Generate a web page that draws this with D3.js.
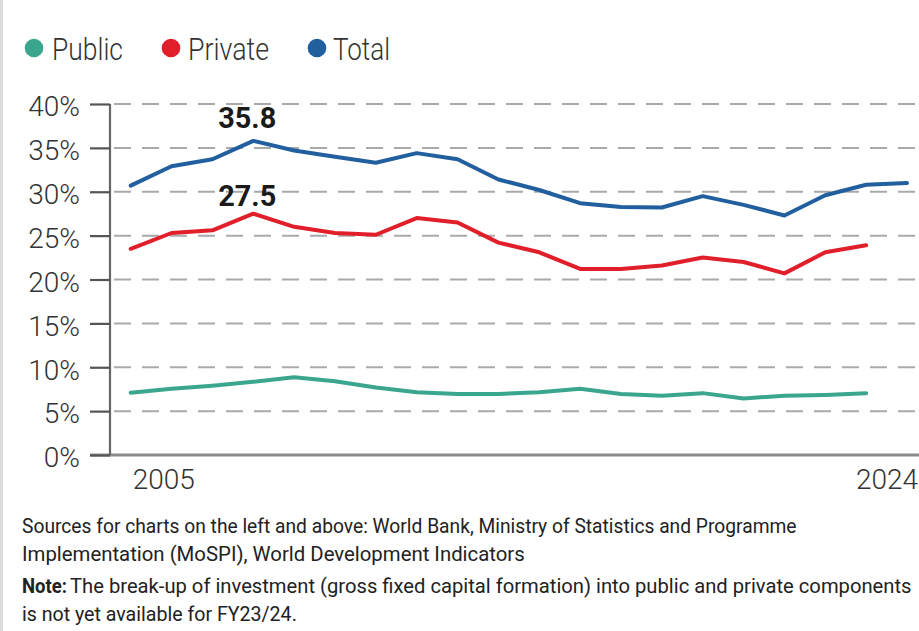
<!DOCTYPE html>
<html>
<head>
<meta charset="utf-8">
<script src="https://cdn.jsdelivr.net/npm/d3@7"></script>
<style>
  html, body { margin: 0; padding: 0; background: #fff; }
  svg { display: block; }
  text { font-family: Roboto, "Noto Sans", sans-serif; }
</style>
</head>
<body>
<svg id="chart" width="919" height="631"></svg>
<script>
const years = [2005, 2006, 2007, 2008, 2009, 2010, 2011, 2012, 2013, 2014,
               2015, 2016, 2017, 2018, 2019, 2020, 2021, 2022, 2023, 2024];
const totalValues   = [30.7, 32.9, 33.7, 35.8, 34.7, 34.0, 33.3, 34.4, 33.7, 31.4,
                       30.2, 28.7, 28.25, 28.2, 29.5, 28.5, 27.3, 29.6, 30.8, 31.0];
const privateValues = [23.5, 25.3, 25.6, 27.5, 26.0, 25.3, 25.1, 27.0, 26.5, 24.2,
                       23.1, 21.2, 21.2, 21.6, 22.5, 22.0, 20.7, 23.1, 23.9, null];
const publicValues  = [7.1, 7.55, 7.9, 8.35, 8.85, 8.4, 7.7, 7.15, 6.95, 6.95,
                       7.15, 7.55, 6.95, 6.75, 7.05, 6.45, 6.75, 6.85, 7.05, null];
const seriesNames = ["Public", "Private", "Total"];
const yTicks = [0, 5, 10, 15, 20, 25, 30, 35, 40];
const xTickLabels = [2005, 2024];
const annotationYears = [2008, 2008];
const annotationSeries = ["Total", "Private"];
const annotationTexts = ["35.8", "27.5"];
const sourceLines = [
  "Sources for charts on the left and above: World Bank, Ministry of Statistics and Programme",
  "Implementation (MoSPI),  World Development Indicators"
];
const noteLabel = "Note:";
const noteLines = [
  "The break-up of investment (gross fixed capital formation) into public and private components",
  "is not yet available for FY23/24."
];

const colors = { Public: "#3aa68d", Private: "#e11f2b", Total: "#215f9f" };
const valuesBySeries = { Public: publicValues, Private: privateValues, Total: totalValues };

const svg = d3.select("#chart");

// left page edge
svg.append("rect").attr("x", 0).attr("y", 0).attr("width", 3).attr("height", 631).attr("fill", "#dcdcdc");

const x = d3.scaleLinear().domain([2005, 2024]).range([130.7, 907]);
const y = d3.scaleLinear().domain([0, 40]).range([455, 104]);

// gridlines (dashed)
const grid = svg.append("g");
grid.selectAll("line.grid").data(yTicks.filter(d => d > 0)).join("line")
  .attr("x1", 110).attr("x2", 919)
  .attr("y1", d => y(d)).attr("y2", d => y(d))
  .attr("stroke", "#a9a9a9").attr("stroke-width", 2)
  .attr("stroke-dasharray", "17,11").attr("stroke-dashoffset", -4);

// baseline
svg.append("line").attr("x1", 90).attr("x2", 919).attr("y1", y(0)).attr("y2", y(0))
  .attr("stroke", "#8c8c8c").attr("stroke-width", 3);

// y axis
const yAxis = d3.axisLeft(y).tickValues(yTicks).tickSize(20).tickPadding(10)
  .tickFormat(d => d + "%");
const yg = svg.append("g").attr("transform", "translate(110,0)").call(yAxis);
yg.select(".domain").attr("stroke", "#666").attr("stroke-width", 2.2)
  .attr("d", `M0,${y(40)}V${y(0)}`);
yg.selectAll(".tick line").attr("stroke", "#555").attr("stroke-width", 2.2);
yg.selectAll(".tick text")
  .attr("x", -30)
  .attr("dy", "0.42em")
  .attr("fill", "#333")
  .style("font-size", "28px")
  .style("font-weight", 300)
  .style("font-family", "Roboto, sans-serif");

// x axis labels
const xg = svg.append("g");
xg.selectAll("text").data(xTickLabels).join("text")
  .attr("x", d => d === 2005 ? x(d) + 2 : 918)
  .attr("y", 489)
  .attr("text-anchor", d => d === 2005 ? "start" : "end")
  .attr("fill", "#333")
  .style("font-size", "28px")
  .style("font-weight", 300)
  .text(d => d);

// lines
const line = d3.line()
  .defined(d => d.v !== null)
  .x(d => x(d.year))
  .y(d => y(d.v));

seriesNames.forEach(name => {
  const data = years.map((yr, i) => ({ year: yr, v: valuesBySeries[name][i] }));
  svg.append("path").datum(data)
    .attr("d", line)
    .attr("fill", "none")
    .attr("stroke", colors[name])
    .attr("stroke-width", 4)
    .attr("stroke-linejoin", "round")
    .attr("stroke-linecap", "round");
});

// annotations
annotationTexts.forEach((t, i) => {
  const yr = annotationYears[i];
  const v = valuesBySeries[annotationSeries[i]][years.indexOf(yr)];
  svg.append("text")
    .attr("x", x(yr) - 6)
    .attr("y", y(v) - (annotationSeries[i] === "Total" ? 13 : 8))
    .attr("text-anchor", "middle")
    .attr("fill", "#1a1a1a")
    .style("font-size", "29px")
    .style("font-weight", 700)
    .attr("textLength", 58)
    .attr("lengthAdjust", "spacingAndGlyphs")
    .text(t);
});

// legend
const legendCx = [34, 171, 317];
const legendTx = [52, 188, 333];
const legendW = [71, 81, 57];
const lg = svg.append("g");
seriesNames.forEach((name, i) => {
  lg.append("circle").attr("cx", legendCx[i]).attr("cy", 48).attr("r", 9.3).attr("fill", colors[name]);
  lg.append("text").attr("x", legendTx[i]).attr("y", 60)
    .attr("fill", "#333")
    .style("font-size", "31px").style("font-weight", 300)
    .attr("textLength", legendW[i]).attr("lengthAdjust", "spacingAndGlyphs")
    .text(name);
});

// footer: condensed text via horizontal scaling to a target width
const footer = svg.append("g").attr("fill", "#222");
function condensed(txt, x0, y0, w, bold) {
  const t = footer.append("text")
    .style("font-size", "21px")
    .style("font-weight", bold ? 700 : 400)
    .text(txt);
  const natural = t.node().getComputedTextLength();
  const sx = w / natural;
  t.attr("transform", `translate(${x0},${y0}) scale(${sx},1)`);
}
const srcW = [775, 503];
sourceLines.forEach((t, i) => condensed(t, 22, 533 + i * 28, srcW[i], false));
condensed(noteLabel, 22, 593, 45, true);
condensed(noteLines[0], 70, 593, 842, false);
condensed(noteLines[1], 22, 621, 275, false);
</script>
</body>
</html>
